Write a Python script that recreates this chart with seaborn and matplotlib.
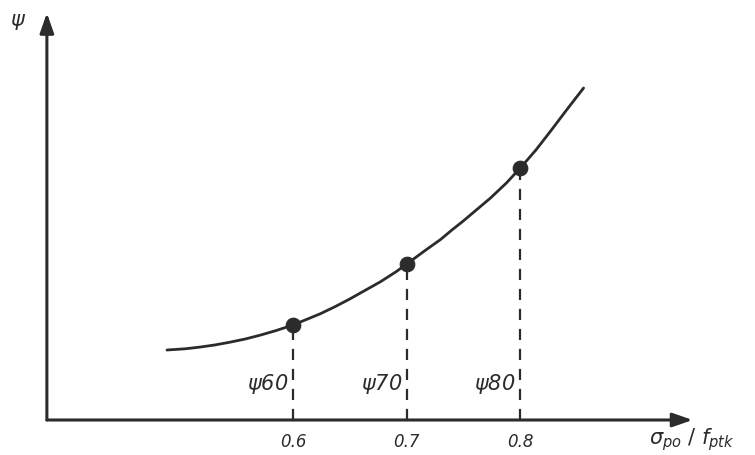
import matplotlib
matplotlib.use("Agg")
import matplotlib.pyplot as plt
import seaborn as sns

# curve (x = sigma_po / f_ptk, y = psi in arbitrary units)
curve_x = [0.489, 0.505, 0.518, 0.531, 0.544, 0.558, 0.571, 0.585, 0.600,
           0.612, 0.624, 0.637, 0.650, 0.663, 0.677, 0.691, 0.705, 0.717,
           0.730, 0.740, 0.750, 0.762, 0.774, 0.788, 0.801, 0.814, 0.827,
           0.841, 0.856]
curve_y = [70, 71.2, 72.9, 75, 77.7, 81, 84.8, 89.4, 95,
           100.6, 106.2, 113.3, 121, 129.3, 138.2, 148.4, 160, 170,
           180.5, 190, 199, 210.5, 222, 237, 253, 270, 289,
           310, 332]

# marked points
point_x = [0.6, 0.7, 0.8]
point_y = [95, 156, 252]
point_labels = ["60", "70", "80"]
tick_labels = ["0.6", "0.7", "0.8"]

ink = "#2b2b2b"

sns.set_theme(style="white")
plt.rcParams["mathtext.fontset"] = "dejavusans"

fig = plt.figure(figsize=(7.55, 4.55), dpi=100)
ax = fig.add_axes([0, 0, 1, 1])
ax.set_xlim(0.3419, 1.007)
ax.set_ylim(-35, 420)
ax.axis("off")

# axes drawn as arrows
x0, y0 = 0.3832, 0
head = "-|>,head_length=1.0,head_width=0.35"
ax.annotate("", xy=(0.952, y0), xytext=(x0, y0),
            arrowprops=dict(arrowstyle=head, color=ink, lw=2.2, shrinkA=0, shrinkB=0))
ax.annotate("", xy=(x0, 407), xytext=(x0, y0),
            arrowprops=dict(arrowstyle=head, color=ink, lw=2.2, shrinkA=0, shrinkB=0))

sns.lineplot(x=curve_x, y=curve_y, ax=ax, color=ink, lw=2.0, sort=False,
             solid_joinstyle="round")
ax.vlines(point_x, 0, point_y, colors=ink, lw=1.6, linestyles=(0, (5, 4)))
sns.scatterplot(x=point_x, y=point_y, ax=ax, color=ink, s=110, edgecolor=ink, zorder=5)

for x, lab, tl in zip(point_x, point_labels, tick_labels):
    ax.text(x - 0.004, 36, r"$\psi$" + lab, ha="right", va="center",
            fontsize=15, color=ink, style="italic")
    ax.text(x, -22, tl, ha="center", va="center", fontsize=12,
            color=ink, style="italic")

ax.text(0.358, 398, r"$\psi$", ha="center", va="center", fontsize=15, color=ink)
ax.text(0.951, -20, r"$\sigma_{po}$ / $f_{ptk}$", ha="center", va="center",
        fontsize=15, color=ink)

fig.savefig("out.png", dpi=100)
